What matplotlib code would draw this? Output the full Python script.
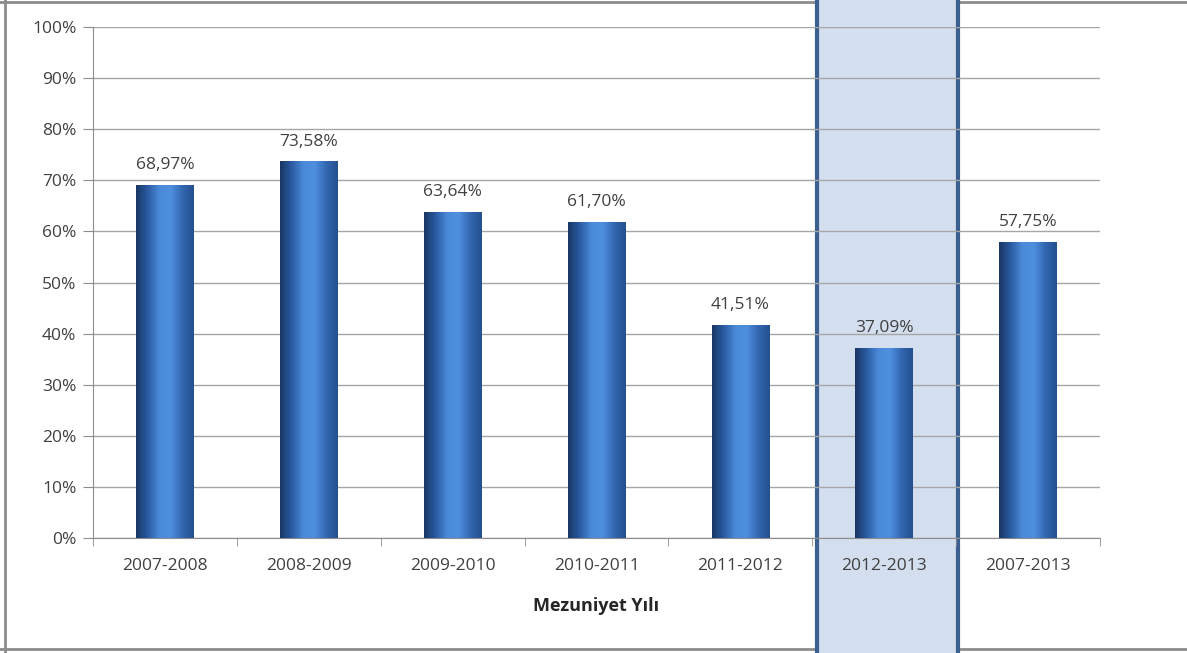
import numpy as np
import matplotlib.pyplot as plt
from matplotlib.colors import LinearSegmentedColormap
from matplotlib.patches import Rectangle
from matplotlib.lines import Line2D
import matplotlib.transforms as mtransforms

# Data
years = ["2007-2008", "2008-2009", "2009-2010", "2010-2011", "2011-2012", "2012-2013", "2007-2013"]
rates = [68.97, 73.58, 63.64, 61.70, 41.51, 37.09, 57.75]
highlight = 5

plt.rcParams['font.family'] = ['Open Sans', 'DejaVu Sans']

fig = plt.figure(figsize=(11.87, 6.53), dpi=100)
ax = fig.add_axes([0.0784, 0.176, 0.8483, 0.7827])

x = np.arange(len(years))
bar_w = 0.4

# horizontal gradient for the bars
bar_cmap = LinearSegmentedColormap.from_list(
    "bar", ["#1a3766", "#2b5ca3", "#4a8ad8", "#4f90de", "#3368b2", "#24508f"])
grad = np.linspace(0, 1, 64).reshape(1, -1)
for xi, v in zip(x, rates):
    ax.imshow(grad, cmap=bar_cmap, aspect="auto", zorder=3,
              extent=[xi - bar_w / 2, xi + bar_w / 2, 0, v], interpolation="bilinear")
    ax.annotate(f"{v:.2f}%".replace(".", ","), (xi, v), xytext=(0, 9),
                textcoords="offset points", ha="center", va="bottom",
                fontsize=12.5, color="#404040", zorder=5)

ax.set_xlim(-0.5, len(years) - 0.5)
ax.set_ylim(0, 100)
ax.set_yticks(np.arange(0, 101, 10))
ax.set_yticklabels([f"{t}%" for t in range(0, 101, 10)])
ax.set_xticks(x)
ax.set_xticklabels(years)
ax.set_xticks(np.arange(-0.5, len(years), 1), minor=True)
ax.tick_params(axis="x", which="major", length=0, pad=14, labelsize=12.5, colors="#404040")
ax.tick_params(axis="x", which="minor", length=6, color="#8c8c8c")
ax.tick_params(axis="y", length=7, labelsize=12.5, pad=5)
ax.tick_params(axis="y", colors="#8c8c8c", labelcolor="#404040")

ax.grid(axis="y", color="#a6a6a6", lw=1, zorder=1)
ax.set_axisbelow(True)
for s in ["top", "right"]:
    ax.spines[s].set_visible(False)
for s in ["left", "bottom"]:
    ax.spines[s].set_color("#8c8c8c")

ax.set_xlabel("Mezuniyet Yılı", fontsize=13, fontweight="bold", color="#262626", labelpad=17)

# highlight box over 2012-2013, spanning the full figure height
trans = mtransforms.blended_transform_factory(ax.transData, fig.transFigure)
box = Rectangle((highlight - 0.47, -0.01), 0.98, 1.1, transform=trans,
                facecolor="#d3deef", edgecolor="#3b5f8e", lw=3, zorder=0.5, clip_on=False)
ax.add_patch(box)

# outer frame of the picture (top, left, bottom)
for xs, ys in [([0, 1], [0.997, 0.997]), ([0.004, 0.004], [0, 1]), ([0, 1], [0.006, 0.006])]:
    fig.add_artist(Line2D(xs, ys, color="#8c8c8c", lw=2, transform=fig.transFigure, zorder=0))

fig.savefig("out.png", dpi=100)
